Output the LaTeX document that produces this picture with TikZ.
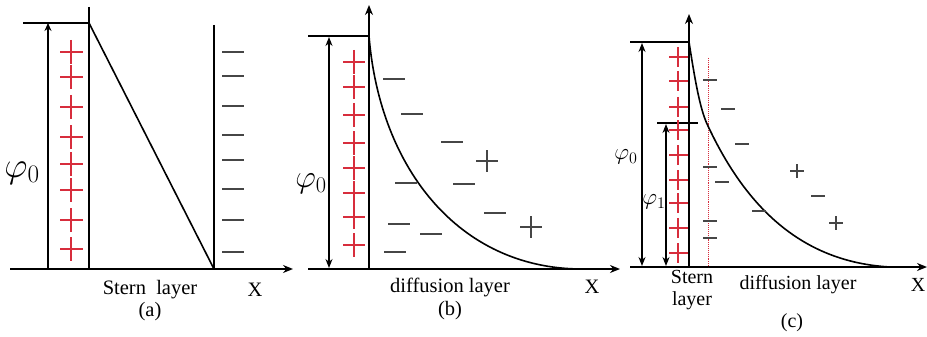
\documentclass[tikz,border=0pt]{standalone}
\usepackage{fix-cm}
\usepackage{fontspec}
\setmainfont{Liberation Serif}
\usetikzlibrary{arrows.meta}
\definecolor{pred}{RGB}{215,45,60}
\definecolor{dgray}{RGB}{70,70,70}
\begin{document}
\begin{tikzpicture}[x=1pt,y=-1pt,
  ax/.style={line width=1.6pt,-{Stealth[length=10pt,width=8pt]}},
  ln/.style={line width=1.6pt},
  dim/.style={line width=1.3pt,{Stealth[length=9pt,width=7pt]}-{Stealth[length=9pt,width=7pt]}},
  uparr/.style={line width=1.6pt,-{Stealth[length=8pt,width=7pt]}},
  lbl/.style={font=\fontsize{20.5}{23}\selectfont,inner sep=0pt},
  lblc/.style={font=\fontsize{20}{22}\selectfont,inner sep=0pt},
  neg/.style={dgray,line width=1.4pt},
  pl/.style={pred,line width=1.2pt},
  bpl/.style={dgray,line width=1.3pt}]
\useasboundingbox (0,0) rectangle (927,337);
% ---------- panel (a) ----------
\coordinate (aO) at (10,269);
\coordinate (aE) at (293,269);
\draw[ax] (aO) -- (aE);
\coordinate (aL0) at (48,269); \coordinate (aL1) at (48,23);
\draw[uparr] (aL0) -- (aL1);
\coordinate (aT0) at (23,23); \coordinate (aT1) at (89,23);
\draw[ln] (aT0) -- (aT1);
\coordinate (aR0) at (89,7); \coordinate (aR1) at (89,269);
\draw[ln] (aR0) -- (aR1);
\coordinate (aD1) at (214,269);
\draw[ln] (aT1) -- (aD1);
\coordinate (aV0) at (214,25);
\draw[ln] (aV0) -- (aD1);
\foreach \y in {52,76,106,135,160,189,220,252}{
  \draw[neg] (222,\y) -- (244,\y);}
\foreach \y in {52,77,107,137,164,190,220,249}{
  \draw[pl] (60,\y) -- (83,\y);
  \draw[pl] (71,\y-12) -- (71,\y+12);}
\node[inner sep=0pt] (phia) at (22,173) {\fontsize{36}{38}\selectfont$\varphi_0$};
\node[lbl] (sa) at (150,290) {Stern\ \ layer};
\node[lbl] (xa) at (255,290) {X};
\node[lbl] (ca) at (150,312) {(a)};
% ---------- panel (b) ----------
\coordinate (bO) at (308,269);
\coordinate (bE) at (620,269);
\draw[ax] (bO) -- (bE);
\coordinate (bY0) at (369,269); \coordinate (bY1) at (369,5);
\draw[ax] (bY0) -- (bY1);
\coordinate (bT0) at (308,36); \coordinate (bT1) at (369,36);
\draw[ln] (bT0) -- (bT1);
\coordinate (bA0) at (329,37); \coordinate (bA1) at (329,268);
\draw[dim] (bA0) -- (bA1);
\coordinate (bC1) at (580,269);
\draw[ln] (bT1) .. controls (380,170) and (460,268) .. (bC1);
\foreach \y in {62,87,115,143,168,193,217,245}{
  \draw[pl] (343,\y) -- (365,\y);
  \draw[pl] (354,\y-12) -- (354,\y+12);}
\foreach \x/\y in {394/79,412/114,452/142,406/183,464/184,495/213,399/224,431/234,395/252}{
  \draw[neg] (\x-11,\y) -- (\x+11,\y);}
\foreach \x/\y in {487/161,531/227}{
  \draw[bpl] (\x-11,\y) -- (\x+11,\y);
  \draw[bpl] (\x,\y-11) -- (\x,\y+11);}
\node[inner sep=0pt] (phib) at (311,184) {\fontsize{32}{34}\selectfont$\varphi_0$};
\node[lbl] (db) at (450,287) {diffusion layer};
\node[lbl] (xb) at (592,287) {X};
\node[lbl] (cb) at (450,311) {(b)};
% ---------- panel (c) ----------
\coordinate (cO) at (630,267);
\coordinate (cE) at (927,267);
\draw[ax] (cO) -- (cE);
\coordinate (cY0) at (689,267); \coordinate (cY1) at (689,14);
\draw[ax] (cY0) -- (cY1);
\coordinate (cT0) at (630,42); \coordinate (cT1) at (689,42);
\draw[ln] (cT0) -- (cT1);
\coordinate (cA0) at (642,43); \coordinate (cA1) at (642,266);
\draw[dim] (cA0) -- (cA1);
\coordinate (cS0) at (657,123); \coordinate (cS1) at (698,123);
\draw[ln] (cS0) -- (cS1);
\coordinate (cB0) at (666,124); \coordinate (cB1) at (666,266);
\draw[dim] (cB0) -- (cB1);
\coordinate (cP0) at (708,58); \coordinate (cP1) at (708,267);
\draw[pred,line width=0.9pt,densely dotted] (cP0) -- (cP1);
\coordinate (cM) at (708,126);
\coordinate (cC1) at (890,267);
\draw[ln] (cT1) .. controls (695,80) and (700,110) .. (cM)
  .. controls (745,205) and (800,262) .. (cC1);
\foreach \y in {57,81,107,130,155,180,203,228,253}{
  \draw[pl] (669,\y) -- (688,\y);
  \draw[pl] (678,\y-10) -- (678,\y+10);}
\foreach \x/\y in {710/80,710/167,710/221,710/238,728/109,742/144,722/182,759/211,818/196}{
  \draw[neg] (\x-7,\y) -- (\x+7,\y);}
\foreach \x/\y in {797/171,836/223}{
  \draw[bpl] (\x-7,\y) -- (\x+7,\y);
  \draw[bpl] (\x,\y-7) -- (\x,\y+7);}
\node[inner sep=0pt] (phic0) at (626,157) {\fontsize{23}{25}\selectfont$\varphi_0$};
\node[inner sep=0pt] (phic1) at (654,202) {\fontsize{23}{25}\selectfont$\varphi_1$};
\node[lblc] (sc1) at (692,277) {Stern};
\node[lblc] (sc2) at (692,301) {layer};
\node[lblc] (dc) at (798,285) {diffusion layer};
\node[lblc] (xc) at (918,285) {X};
\node[lblc] (cc) at (792,323) {(c)};
\end{tikzpicture}
\end{document}
